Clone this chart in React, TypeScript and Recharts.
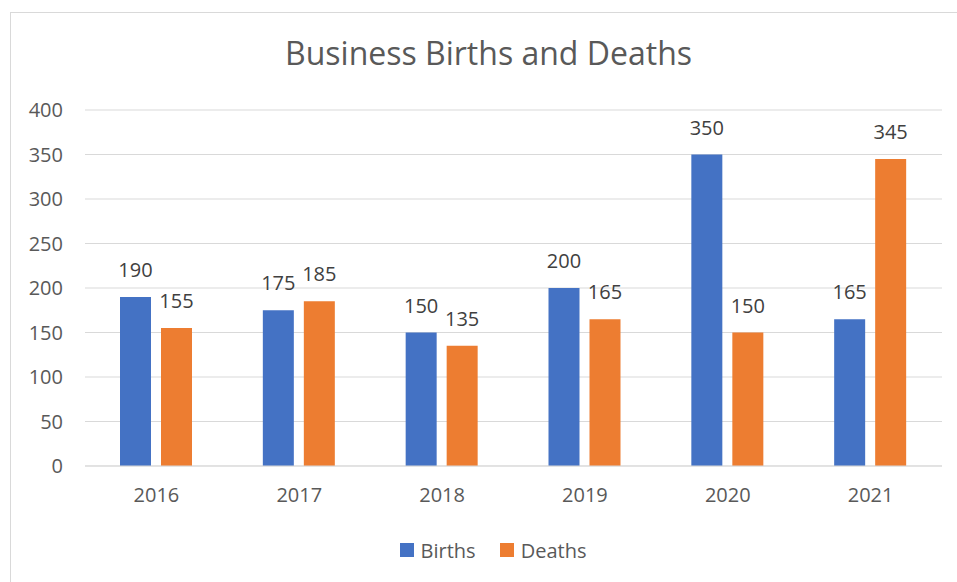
import React from 'react';
import { BarChart, Bar, XAxis, YAxis, CartesianGrid, Legend, LabelList } from 'recharts';

const years = ['2016', '2017', '2018', '2019', '2020', '2021'];
const births = [190, 175, 150, 200, 350, 165];
const deaths = [155, 185, 135, 165, 150, 345];
const yTicks = [0, 50, 100, 150, 200, 250, 300, 350, 400];

const data = years.map((year, i) => ({ year, births: births[i], deaths: deaths[i] }));

const FONT = '"Open Sans", "Noto Sans", sans-serif';
const BLUE = '#4472c4';
const ORANGE = '#ed7d31';

function LegendBox({ payload }: any) {
  return (
    <div style={{ height: 40, paddingLeft: 44, boxSizing: 'border-box', display: 'flex', alignItems: 'center', justifyContent: 'center', fontFamily: FONT, fontSize: 20, color: '#595959' }}>
      {(payload || []).map((p: any) => (
        <div key={p.value} style={{ display: 'flex', alignItems: 'center', margin: '0 12px' }}>
          <span style={{ width: 14, height: 14, background: p.color, display: 'inline-block', marginRight: 7 }} />
          <span>{p.value}</span>
        </div>
      ))}
    </div>
  );
}

export default function App() {
  return (
    <div style={{ position: 'absolute', left: 0, top: 0, width: 957, height: 582, background: '#fff' }}>
      <div style={{ position: 'absolute', left: 10, top: 12, width: 947, height: 570, borderLeft: '1px solid #d9d9d9', borderTop: '1px solid #d9d9d9' }} />
      <div style={{ position: 'absolute', left: 0, width: 977, top: 31, textAlign: 'center', fontFamily: FONT, fontSize: 32, color: '#595959' }}>
        Business Births and Deaths
      </div>
      <div style={{ position: 'absolute', left: 0, top: 0 }}>
        <BarChart width={957} height={582} data={data} margin={{ top: 110, right: 15, bottom: 12, left: 0 }} barSize={31} barGap={10}>
          <CartesianGrid vertical={false} stroke="#d9d9d9" />
          <XAxis dataKey="year" axisLine={{ stroke: '#d9d9d9' }} tickLine={false} tickSize={0} tickMargin={22} height={64}
            tick={{ fontSize: 20, fill: '#595959', fontFamily: FONT }} />
          <YAxis domain={[0, 400]} ticks={yTicks} width={85} axisLine={false} tickLine={false} tickSize={0} tickMargin={22}
            tick={{ fontSize: 20, fill: '#595959', fontFamily: FONT }} />
          <Legend verticalAlign="bottom" content={<LegendBox />} />
          <Bar dataKey="births" name="Births" fill={BLUE} isAnimationActive={false}>
            <LabelList dataKey="births" position="top" offset={20} fill="#404040" fontSize={20} fontFamily={FONT} />
          </Bar>
          <Bar dataKey="deaths" name="Deaths" fill={ORANGE} isAnimationActive={false}>
            <LabelList dataKey="deaths" position="top" offset={20} fill="#404040" fontSize={20} fontFamily={FONT} />
          </Bar>
        </BarChart>
      </div>
    </div>
  );
}
